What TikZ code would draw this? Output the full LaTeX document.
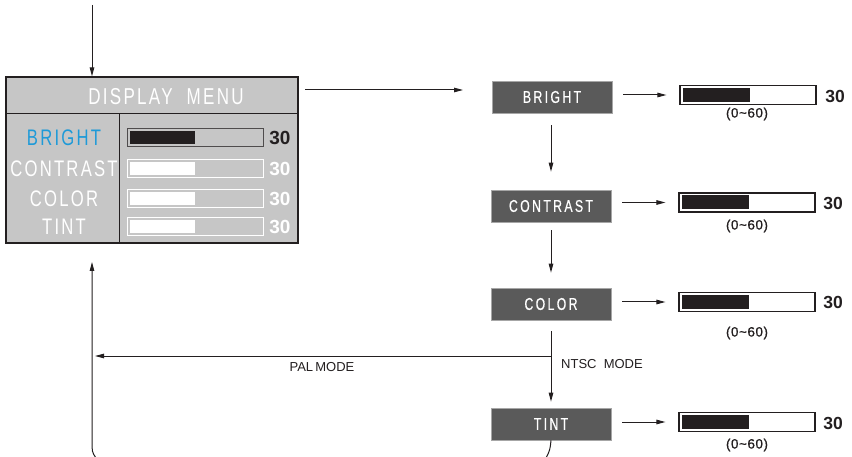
\documentclass[tikz,border=0pt]{standalone}
\usepackage{fontspec}
\setmainfont{Liberation Sans}
\newfontfamily\condA[FakeStretch=0.74,LetterSpace=10]{Liberation Sans}
\newfontfamily\condB[FakeStretch=0.72,LetterSpace=14,FakeBold=0.6]{Liberation Sans}
\newfontfamily\rangefont[FakeBold=0.8,LetterSpace=4]{Liberation Sans}
\usetikzlibrary{arrows.meta}
\definecolor{menugray}{HTML}{C6C6C6}
\definecolor{boxgray}{HTML}{5A5A5A}
\definecolor{lineblk}{HTML}{231F20}
\definecolor{menublue}{HTML}{1E9AD8}
\begin{document}
\begin{tikzpicture}[x=1pt,y=-1pt,
  arr/.style={draw=lineblk, line width=1pt, -{Triangle[length=9pt,width=4.5pt]}},
  ln/.style={draw=lineblk, line width=1pt},
  rbox/.style={fill=boxgray, draw=gray!70, line width=0.6pt, minimum width=120pt, minimum height=32pt, inner sep=0pt, text=white, font=\condB\fontsize{17}{17}\selectfont},
  mlab/.style={text=white, font=\condA\fontsize{22.5}{22.5}\selectfont, inner sep=0pt},
  mnum/.style={text=white, font=\bfseries\fontsize{19}{19}\selectfont, inner sep=0pt},
  mbar/.style={draw=white, line width=1pt, minimum width=136pt, minimum height=18pt, inner sep=0pt},
  rbar/.style={draw=lineblk, line width=1.1pt, fill=white, minimum width=136pt, minimum height=19pt, inner sep=0pt},
  rnum/.style={font=\fontsize{17.5}{17.5}\selectfont\bfseries, text=lineblk, inner sep=0pt},
  rangelbl/.style={font=\rangefont\fontsize{13.5}{13.5}\selectfont, text=lineblk, inner sep=0pt},
  modelbl/.style={font=\fontsize{13}{13}\selectfont, text=lineblk, inner sep=0pt}
]
\useasboundingbox (0,0) rectangle (852,457);
\fill[white] (0,0) rectangle (852,457);

% ---------- display menu ----------
\node[draw=lineblk, line width=1.2pt, fill=menugray, minimum width=292pt, minimum height=166pt, inner sep=0pt] (menu) at (152,160) {};
\draw[ln] (6,114) -- (298,114);
\draw[ln] (119,114) -- (119,243);
\node[mlab, font=\condA\fontsize{23}{23}\selectfont] (title) at (166,97) {DISPLAY\ \ MENU};

\node[mlab, text=menublue] (mlb) at (64,138) {BRIGHT};
\node[mlab] (mlc) at (64,169) {CONTRAST};
\node[mlab] (mlo) at (64,199) {COLOR};
\node[mlab] (mlt) at (64,227) {TINT};

\node[mbar, draw=lineblk!80] (mbb) at (195,138) {};
\fill[lineblk] (129.5,131.5) rectangle (195,144.5);
\node[mbar] (mbc) at (195,169) {};
\fill[white] (129.5,162.5) rectangle (195,175.5);
\node[mbar] (mbo) at (195,199) {};
\fill[white] (129.5,192.5) rectangle (195,205.5);
\node[mbar] (mbt) at (195,227) {};
\fill[white] (129.5,220.5) rectangle (195,233.5);

\node[mnum, text=lineblk] (mnb) at (280,138) {30};
\node[mnum] (mnc) at (280,169) {30};
\node[mnum] (mno) at (280,199) {30};
\node[mnum] (mnt) at (280,227) {30};

% ---------- right column ----------
\node[rbox] (bright) at (552,97) {BRIGHT};
\node[rbox] (contrast) at (551,206) {CONTRAST};
\node[rbox] (color) at (551,304) {COLOR};
\node[rbox] (tint) at (551,424) {TINT};

\node[rbar] (bb) at (748,95) {};
\fill[lineblk] (683,88) rectangle (750,102);
\node[rbar] (bc) at (747,202.5) {};
\fill[lineblk] (682,195.5) rectangle (749,209.5);
\node[rbar] (bo) at (747,302) {};
\fill[lineblk] (682,295) rectangle (749,309);
\node[rbar] (bt) at (747,422) {};
\fill[lineblk] (682,415) rectangle (749,429);

\node[rnum] (nb) at (835,96) {30};
\node[rnum] (nc) at (833,203) {30};
\node[rnum] (no) at (833,302) {30};
\node[rnum] (nt) at (833,423) {30};

\node[rangelbl] (rb) at (747,114) {(0\char"007E 60)};
\node[rangelbl] (rc) at (747,226) {(0\char"007E 60)};
\node[rangelbl] (ro) at (747,333) {(0\char"007E 60)};
\node[rangelbl] (rt) at (747,445) {(0\char"007E 60)};

% horizontal arrows box -> bar
\draw[arr, shorten <=11pt, shorten >=13pt] (bb.west -| bright.east) -- (bb.west);
\draw[arr, shorten <=11pt, shorten >=13pt] (bc.west -| contrast.east) -- (bc.west);
\draw[arr, shorten <=11pt, shorten >=13pt] (bo.west -| color.east) -- (bo.west);
\draw[arr, shorten <=11pt, shorten >=13pt] (bt.west -| tint.east) -- (bt.west);

% vertical flow
\draw[arr, shorten <=12pt, shorten >=18pt] (bright.south -| contrast.north) -- (contrast.north);
\draw[arr, shorten <=8pt, shorten >=15pt] (contrast.south) -- (color.north);
\coordinate (br) at (551,356);
\draw[ln, shorten <=11pt] (color.south) -- (br);
\draw[arr, shorten >=6pt] (br) -- (tint.north);

% menu connections
\coordinate (topin) at (92,5);
\draw[arr] (topin) -- (topin |- menu.north);
\coordinate (mo1) at (305,90);
\coordinate (mo2) at (463,90);
\draw[arr] (mo1) -- (mo2);
\coordinate (palend) at (95,356);
\draw[arr] (br) -- (palend);
\coordinate (upend) at (92,262);
\coordinate (lb) at (96,458);
\draw[arr] (lb) .. controls (92,452) .. (92,440) -- (upend);
\coordinate (tb) at (546,458);
\draw[ln] (tint.south) .. controls (550,450) .. (tb);

\node[modelbl] (pal) at (322,367) {PAL\,MODE};
\node[modelbl, anchor=west] (ntsc) at (561,364) {NTSC\ \ MODE};
\end{tikzpicture}
\end{document}
